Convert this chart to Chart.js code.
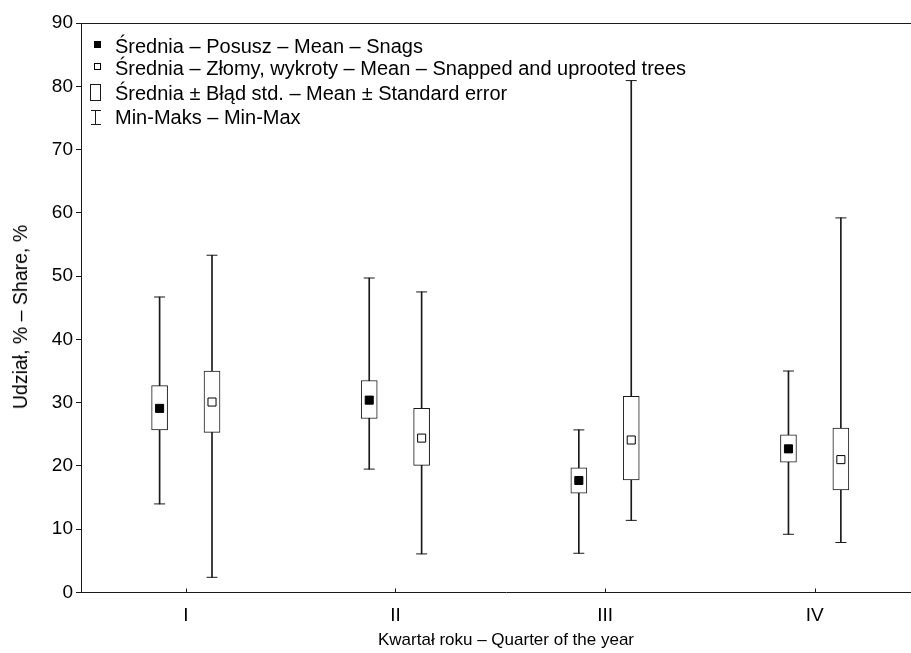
<!DOCTYPE html>
<html>
<head>
<meta charset="utf-8">
<script src="https://cdn.jsdelivr.net/npm/chart.js@4.4.1/dist/chart.umd.min.js"></script>
<style>
  html, body { margin: 0; padding: 0; background: #fff; overflow: hidden; }
  #wrap { position: relative; width: 911px; height: 653px; overflow: hidden; font-family: "Liberation Sans", Arial, sans-serif; }
  canvas { display: block; }
  .row { position: absolute; left: 115px; font-size: 20px; line-height: 22px; white-space: nowrap; color: #000; }
  .sym { position: absolute; box-sizing: border-box; }
  #ytitle { position: absolute; left: 20px; top: 317px; font-size: 19.5px; line-height: 22px; white-space: nowrap;
            transform: translate(-50%, -50%) rotate(-90deg); color: #000; }
</style>
</head>
<body>
<div id="wrap">
  <canvas id="chart" width="931" height="653"></canvas>
  <div id="ytitle"></div>
  <div id="legend"></div>
</div>
<script>
// quarters of the year
const quarters = ['I', 'II', 'III', 'IV'];

// Posusz – Snags
const snagMean    = [29.1, 30.4, 17.7, 22.7];
const snagBoxLow  = [25.7, 27.5, 15.7, 20.6];
const snagBoxHigh = [32.7, 33.5, 19.7, 24.9];
const snagMin     = [14.0, 19.5, 6.2, 9.2];
const snagMax     = [46.7, 49.7, 25.7, 35.0];

// Złomy, wykroty – Snapped and uprooted trees
const snapMean    = [30.1, 24.4, 24.1, 21.0];
const snapBoxLow  = [25.3, 20.1, 17.8, 16.2];
const snapBoxHigh = [35.0, 29.1, 31.0, 26.0];
const snapMin     = [2.4, 6.1, 11.4, 7.9];
const snapMax     = [53.3, 47.5, 80.9, 59.2];

const legendLabels = [
    'Średnia – Posusz – Mean – Snags',
    'Średnia – Złomy, wykroty – Mean – Snapped and uprooted trees',
    'Średnia ± Błąd std. – Mean ± Standard error',
    'Min-Maks – Min-Max'
];
const xTitle = 'Kwartał roku – Quarter of the year';
const yTitle = 'Udział, % – Share, %';

const INK = '#1a1a1a';
const OFF = 0.125;

Chart.defaults.font.family = '"Liberation Sans", Arial, sans-serif';
Chart.defaults.color = '#000';

function seriesSets(mean, lo, hi, mn, mx, off, filled) {
    const xs = quarters.map((q, i) => i + 1 + off);
    return [
        // whisker line min..max
        {
            type: 'bar',
            data: xs.map((x, i) => ({ x: x, y: [mn[i], mx[i]] })),
            barThickness: 1,
            backgroundColor: INK,
            borderWidth: 0,
            grouped: false,
            order: 3
        },
        // box mean ± SE
        {
            type: 'bar',
            data: xs.map((x, i) => ({ x: x, y: [lo[i], hi[i]] })),
            barThickness: 16,
            backgroundColor: '#fff',
            borderColor: INK,
            borderWidth: 1,
            borderSkipped: false,
            grouped: false,
            order: 2
        },
        // whisker caps
        {
            type: 'line',
            showLine: false,
            data: xs.map((x, i) => ({ x: x, y: mn[i] })).concat(xs.map((x, i) => ({ x: x, y: mx[i] }))),
            pointStyle: 'line',
            pointRadius: 5.5,
            pointBorderWidth: 1,
            pointBorderColor: INK,
            order: 1
        },
        // mean marker
        {
            type: 'line',
            showLine: false,
            data: xs.map((x, i) => ({ x: x, y: mean[i] })),
            pointStyle: 'rect',
            pointRadius: 5.7,
            pointBackgroundColor: filled ? '#000' : '#fff',
            pointBorderColor: '#000',
            pointBorderWidth: 1,
            order: 0
        }
    ];
}

// top frame line and small inward ticks on the x axis
const frameExtras = {
    id: 'frameExtras',
    afterDraw(chart) {
        const ctx = chart.ctx;
        const area = chart.chartArea;
        const xs = chart.scales.x;
        ctx.save();
        ctx.strokeStyle = INK;
        ctx.lineWidth = 1;
        ctx.beginPath();
        ctx.moveTo(area.left, Math.round(area.top) + 0.5);
        ctx.lineTo(area.right, Math.round(area.top) + 0.5);
        quarters.forEach((q, i) => {
            const px = Math.round(xs.getPixelForValue(i + 1)) + 0.5;
            ctx.moveTo(px, area.bottom);
            ctx.lineTo(px, area.bottom - 4);
        });
        ctx.stroke();
        ctx.restore();
    }
};

new Chart(document.getElementById('chart'), {
    type: 'bar',
    data: {
        datasets: seriesSets(snagMean, snagBoxLow, snagBoxHigh, snagMin, snagMax, -OFF, true)
            .concat(seriesSets(snapMean, snapBoxLow, snapBoxHigh, snapMin, snapMax, OFF, false))
    },
    options: {
        responsive: false,
        animation: false,
        layout: { autoPadding: false, padding: { top: 23, right: 0, left: 0, bottom: 0 } },
        plugins: { legend: { display: false }, tooltip: { enabled: false } },
        scales: {
            x: {
                type: 'linear',
                min: 0.5,
                max: 4.555,
                offset: false,
                afterBuildTicks: s => { s.ticks = quarters.map((q, i) => ({ value: i + 1 })); },
                afterFit: s => { s.height = 60.5; },
                ticks: {
                    callback: (v, i) => quarters[i],
                    font: { size: 19 },
                    padding: 12,
                    autoSkip: false,
                    maxRotation: 0
                },
                grid: { display: true, drawOnChartArea: false, drawTicks: false },
                border: { display: true, color: INK, width: 1 },
                title: {
                    display: true,
                    text: xTitle,
                    font: { size: 17 },
                    padding: { top: 0, bottom: 2 }
                }
            },
            y: {
                min: 0,
                max: 90,
                afterFit: s => { s.width = 81; },
                ticks: { stepSize: 10, font: { size: 19 }, padding: 3 },
                grid: { drawOnChartArea: false, tickLength: 5, tickColor: INK, color: INK },
                border: { display: true, color: INK, width: 1 }
            }
        }
    },
    plugins: [frameExtras]
});

document.getElementById('ytitle').textContent = yTitle;

// legend drawn inside the plot area, top left
const legend = document.getElementById('legend');
const rowCenters = [45.7, 68, 93, 117.3];
const symbols = [
    '<div class="sym" style="left:94px;top:41px;width:7px;height:7px;background:#000"></div>',
    '<div class="sym" style="left:94px;top:63px;width:7px;height:7px;border:1px solid #000;background:#fff"></div>',
    '<div class="sym" style="left:90px;top:84px;width:11px;height:17px;border:1px solid #1a1a1a;background:#fff"></div>',
    '<div class="sym" style="left:91px;top:110px;width:10px;height:1px;background:#1a1a1a"></div>' +
    '<div class="sym" style="left:95px;top:110px;width:1px;height:15px;background:#1a1a1a"></div>' +
    '<div class="sym" style="left:91px;top:124px;width:10px;height:1px;background:#1a1a1a"></div>'
];
legend.innerHTML = legendLabels.map((t, i) =>
    symbols[i] + '<div class="row" style="top:' + (rowCenters[i] - 11) + 'px">' + t + '</div>'
).join('');
</script>
</body>
</html>
